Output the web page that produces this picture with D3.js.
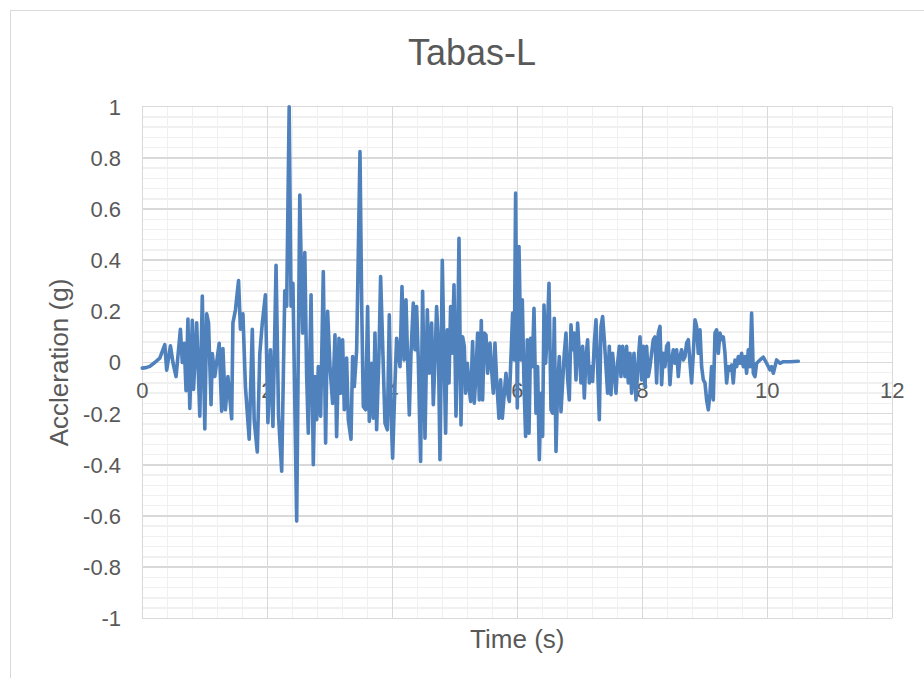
<!DOCTYPE html>
<html>
<head>
<meta charset="utf-8">
<script src="https://cdn.jsdelivr.net/npm/d3@7"></script>
<style>
  body { margin: 0; background: #fff; }
  text { font-family: "Liberation Sans", Arial, sans-serif; fill: #595959; }
</style>
</head>
<body>
<svg width="924" height="678"></svg>
<script>
// ground motion record (peaks and troughs)
const time = [
  0, 0.06, 0.12, 0.20, 0.28, 0.36, 0.39, 0.45, 0.49, 0.54,
  0.61, 0.64, 0.67, 0.70, 0.73, 0.76, 0.80, 0.82, 0.87, 0.92,
  0.96, 1.00, 1.03, 1.06, 1.10, 1.12, 1.16, 1.23, 1.27, 1.29,
  1.33, 1.37, 1.43, 1.45, 1.49, 1.54, 1.57, 1.61, 1.65, 1.71,
  1.76, 1.79, 1.84, 1.88, 1.92, 1.97, 2.01, 2.05, 2.09, 2.14,
  2.18, 2.23, 2.28, 2.31, 2.35, 2.38, 2.41, 2.47, 2.52,
  2.565, 2.60, 2.63, 2.656, 2.70, 2.736, 2.763, 2.79, 2.816, 2.853,
  2.896, 2.933, 2.965, 3.003, 3.045, 3.083, 3.109, 3.147, 3.173, 3.205,
  3.232, 3.269, 3.296, 3.339, 3.365, 3.392, 3.43, 3.483, 3.509, 3.536,
  3.573, 3.605, 3.632, 3.669, 3.696, 3.723, 3.749, 3.787, 3.813, 3.856,
  3.883, 3.92, 3.952, 3.979, 4.005, 4.043, 4.069, 4.123, 4.155, 4.187,
  4.219, 4.245, 4.272, 4.299, 4.336, 4.363, 4.389, 4.416, 4.453, 4.485,
  4.523, 4.56, 4.592, 4.629, 4.656, 4.683, 4.709, 4.736, 4.763, 4.80,
  4.827, 4.853, 4.88, 4.907, 4.933, 4.96, 4.987, 5.019, 5.045, 5.067,
  5.099, 5.125, 5.152, 5.173, 5.2, 5.227, 5.253, 5.285, 5.312, 5.339,
  5.365, 5.392, 5.424, 5.445, 5.472, 5.499, 5.525, 5.563, 5.589, 5.616,
  5.643, 5.669, 5.707, 5.733, 5.76, 5.792, 5.819, 5.845, 5.872, 5.899,
  5.925, 5.952, 5.973, 6.0, 6.027, 6.059, 6.08, 6.107, 6.133, 6.16,
  6.187, 6.213, 6.24, 6.267, 6.299, 6.325, 6.352, 6.379, 6.405, 6.427,
  6.453, 6.48, 6.507, 6.539, 6.565, 6.592, 6.619, 6.645, 6.672, 6.699,
  6.725, 6.752, 6.779, 6.805, 6.832, 6.859, 6.885, 6.912, 6.939, 6.965,
  6.992, 7.019, 7.045, 7.072, 7.099, 7.125, 7.152, 7.179, 7.205, 7.232,
  7.259, 7.285, 7.312, 7.339, 7.365, 7.392, 7.419, 7.445, 7.472, 7.499,
  7.525, 7.579, 7.605, 7.632, 7.659, 7.685,
  7.723, 7.749, 7.776, 7.803, 7.829, 7.867, 7.899, 7.936, 7.963, 7.989,
  8.016, 8.043, 8.069, 8.096, 8.123, 8.149, 8.176, 8.203, 8.229, 8.256,
  8.283, 8.309, 8.336, 8.363, 8.389, 8.416, 8.443, 8.469, 8.496, 8.523,
  8.549, 8.576, 8.603, 8.629, 8.656, 8.683, 8.709, 8.736, 8.763, 8.789,
  8.816, 8.843, 8.869, 8.896, 8.923, 8.949, 8.976, 9.003, 9.029, 9.056,
  9.083, 9.109, 9.136, 9.163, 9.189, 9.216, 9.243, 9.269, 9.296, 9.323,
  9.349, 9.376, 9.403, 9.429, 9.456, 9.483, 9.509, 9.536, 9.563, 9.589,
  9.616, 9.643, 9.669, 9.696, 9.723, 9.749, 9.776, 9.803, 9.829, 9.883,
  9.936, 9.989, 10.043, 10.069, 10.096, 10.149, 10.203, 10.256, 10.363, 10.496
];

const accel = [
  -0.022, -0.02, -0.015, 0.0, 0.017, 0.07, -0.03, 0.065, 0.0, -0.055,
  0.13, 0.0, 0.075, -0.11, 0.17, -0.18, 0.165, -0.105, 0.155, -0.21,
  0.26, -0.26, 0.19, 0.155, -0.165, 0.035, -0.055, 0.075, -0.19, 0.055,
  -0.185, -0.055, -0.22, 0.155, 0.205, 0.32, 0.13, 0.19, -0.095, -0.30,
  0.13, -0.225, -0.35, 0.035, 0.155, 0.265, -0.235, 0.05, -0.25, 0.38,
  -0.21, -0.425, 0.28, 0.22, 1.0, 0.22, 0.31, -0.62, 0.655,
  0.115, 0.43, -0.055, -0.276, 0.265, -0.40, -0.055, -0.224, -0.016, -0.21,
  0.356, -0.315, 0.2, -0.016, -0.16, 0.108, -0.29, 0.095, -0.12, 0.089,
  -0.185, 0.017, -0.224, -0.30, 0.023, -0.094, 0.05, 0.825, 0.245, -0.172,
  -0.185, 0.219, -0.23, -0.003, -0.218, 0.115, -0.263, 0.036, 0.336, -0.016,
  -0.237, -0.263, 0.186, -0.185, -0.374, -0.08, 0.095, -0.016, 0.297, 0.01,
  0.245, 0.01, -0.205, 0.036, 0.232, 0.05, 0.219, 0.01, -0.387, 0.278,
  -0.296, 0.206, -0.042, 0.154, -0.165, 0.01, 0.219, 0.076, -0.38, 0.40,
  0.036, -0.276, 0.128, -0.08, 0.219, 0.036, 0.304, -0.21, 0.063, 0.486,
  -0.244, 0.10, 0.063, -0.12, -0.003, -0.094, -0.152, 0.082, -0.159, -0.042,
  0.115, -0.146, 0.164, -0.146, 0.115, 0.108, -0.042, 0.076, -0.029, -0.12,
  0.076, -0.068, -0.218, -0.068, -0.218, -0.12, -0.042, -0.12, -0.152, 0.023,
  0.193, 0.01, 0.662, -0.178, 0.453, 0.01, 0.245, -0.08, -0.289, 0.089,
  -0.276, 0.095, -0.016, 0.212, -0.198, -0.016, -0.38, -0.12, -0.289, 0.225,
  -0.003, 0.115, 0.31, -0.185, -0.198, 0.173, -0.348, -0.094, 0.023, -0.192,
  -0.08, 0.036, 0.115, -0.061, -0.146, 0.147, 0.05, 0.115, -0.068, 0.154,
  0.036, -0.08, 0.063, -0.139, 0.023, 0.089, -0.08, -0.016, -0.074, 0.076,
  0.167, -0.016, -0.224, 0.141, 0.18, 0.089, -0.016, -0.12, 0.063, -0.126,
  0.036, -0.12, -0.003, 0.063, -0.055, 0.063,
  -0.055, 0.063, -0.08, 0.036, -0.12, 0.036, -0.146, 0.01, 0.10, -0.068,
  0.063, -0.094, 0.063, -0.055, -0.016, 0.036, 0.089, 0.10, -0.08, 0.115,
  0.141, -0.087, 0.036, -0.016, 0.063, 0.076, -0.087, 0.01, 0.05, -0.003,
  0.05, -0.055, 0.023, 0.05, 0.01, 0.023, 0.076, 0.089, -0.003, -0.08,
  0.036, 0.167, 0.141, 0.036, 0.128, -0.016, -0.068, -0.08, -0.146, -0.185,
  -0.12, -0.016, -0.146, 0.115, 0.128, 0.036, 0.115, 0.089, 0.10, 0.036,
  -0.08, -0.016, -0.03, -0.01, -0.08, 0.01, -0.016, 0.023, -0.003, 0.036,
  -0.016, 0.023, -0.042, 0.05, -0.016, 0.193, -0.042, -0.055, -0.003, 0.01,
  0.021, -0.003, -0.029, -0.016, -0.042, 0.01, -0.003, 0.003, 0.003, 0.005
];

const xTicks = [0, 2, 4, 6, 8, 10, 12];
const yTicks = [-1, -0.8, -0.6, -0.4, -0.2, 0, 0.2, 0.4, 0.6, 0.8, 1];

const svg = d3.select('svg');

const plotLeft = 142.3, plotRight = 892.3, plotTop = 106.7, plotBottom = 618.3;

const x = d3.scaleLinear().domain([0, 12]).range([plotLeft, plotRight]);
const y = d3.scaleLinear().domain([-1, 1]).range([plotBottom, plotTop]);

// chart area border
svg.append('rect')
  .attr('x', 10.5).attr('y', 10.5)
  .attr('width', 940).attr('height', 700)
  .attr('fill', 'none')
  .attr('stroke', '#d9d9d9');

const grid = svg.append('g').attr('shape-rendering', 'crispEdges');

// minor gridlines
const xMinor = d3.range(0, 12.001, 0.4);
const yMinor = d3.range(-1, 1.001, 0.04);

grid.selectAll('.vminor').data(xMinor).join('line')
  .attr('x1', d => x(d)).attr('x2', d => x(d))
  .attr('y1', plotTop).attr('y2', plotBottom)
  .attr('stroke', '#f0f0f0').attr('stroke-width', 1.5);

grid.selectAll('.hminor').data(yMinor).join('line')
  .attr('y1', d => y(d)).attr('y2', d => y(d))
  .attr('x1', plotLeft).attr('x2', plotRight)
  .attr('stroke', '#f0f0f0').attr('stroke-width', 1.5);

// major gridlines
grid.selectAll('.vmajor').data(xTicks).join('line')
  .attr('x1', d => x(d)).attr('x2', d => x(d))
  .attr('y1', plotTop).attr('y2', plotBottom)
  .attr('stroke', '#d9d9d9').attr('stroke-width', 1.5);

grid.selectAll('.hmajor').data(yTicks).join('line')
  .attr('y1', d => y(d)).attr('y2', d => y(d))
  .attr('x1', plotLeft).attr('x2', plotRight)
  .attr('stroke', '#d9d9d9').attr('stroke-width', 1.5);

const fmt = d => String(+d.toFixed(1));

// y tick labels
svg.append('g').selectAll('text').data(yTicks).join('text')
  .attr('x', 121)
  .attr('y', d => y(d))
  .attr('dy', '0.36em')
  .attr('text-anchor', 'end')
  .attr('font-size', 22)
  .text(fmt);

// x tick labels sit under the zero line
svg.append('g').selectAll('text').data(xTicks).join('text')
  .attr('x', d => x(d))
  .attr('y', y(0) + 35)
  .attr('text-anchor', 'middle')
  .attr('font-size', 22)
  .text(fmt);

// the record
const line = d3.line()
  .x((d, i) => x(time[i]))
  .y(d => y(d));

svg.append('path')
  .attr('d', line(accel))
  .attr('fill', 'none')
  .attr('stroke', '#4f81bd')
  .attr('stroke-width', 3.6)
  .attr('stroke-linejoin', 'round')
  .attr('stroke-linecap', 'round');

// titles
svg.append('text')
  .attr('x', 472).attr('y', 65)
  .attr('text-anchor', 'middle')
  .attr('font-size', 36)
  .text('Tabas-L');

svg.append('text')
  .attr('x', (plotLeft + plotRight) / 2).attr('y', 648)
  .attr('text-anchor', 'middle')
  .attr('font-size', 26)
  .text('Time (s)');

svg.append('text')
  .attr('transform', `translate(68,${(plotTop + plotBottom) / 2}) rotate(-90)`)
  .attr('text-anchor', 'middle')
  .attr('font-size', 26)
  .text('Accleration (g)');
</script>
</body>
</html>
